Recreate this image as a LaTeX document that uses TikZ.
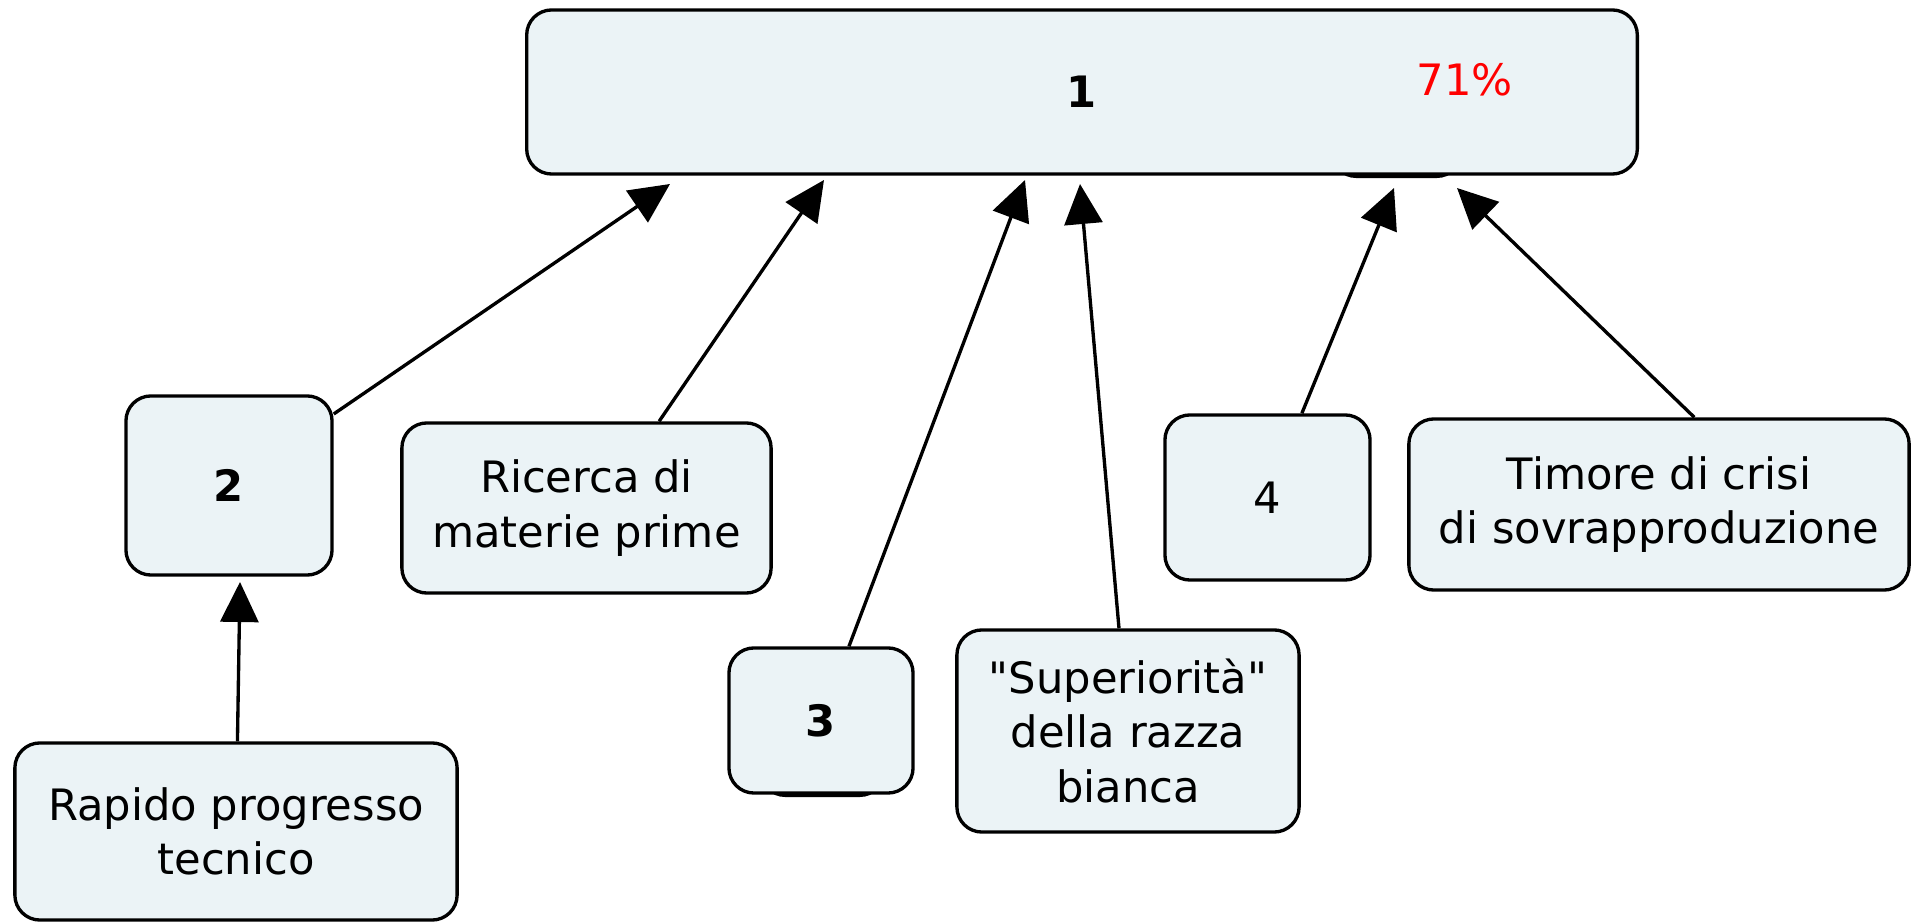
\documentclass[tikz,border=0pt]{standalone}
\usepackage{fontspec}
\setmainfont[Ligatures=TeXOff]{DejaVu Sans}
\usetikzlibrary{calc,arrows.meta}
\definecolor{boxfill}{RGB}{235,243,246}
\begin{document}
\begin{tikzpicture}[x=0.01cm,y=-0.01cm,
    box/.style={draw,line width=0.95pt,fill=boxfill,rounded corners=0.25cm,inner sep=0pt,align=center,font=\fontsize{12.3}{15.5}\selectfont},
    tabbox/.style={fill=black,rounded corners=0.25cm,inner sep=0pt},
    arr/.style={line width=0.95pt,-{Triangle[length=0.4cm,width=0.38cm]}}]
    \useasboundingbox(0,0)rectangle(1911,922);
    \node[tabbox,minimum width=1.31cm,minimum height=0.6cm](TM)at(1396.5,148){};
    \node[tabbox,minimum width=1.25cm,minimum height=0.6cm](T3)at(822.5,767){};
    \node[box,minimum width=11.1cm,minimum height=1.64cm](M)at(1082,92){\raisebox{-0.05cm}{\bfseries 1}};
    \node[text=red,inner sep=0pt,font=\fontsize{12.3}{15.5}\selectfont](P)at(1465,80){71\%};
    \node[box,minimum width=2.06cm,minimum height=1.79cm](K2)at(229,485.5){\bfseries 2};
    \node[box,minimum width=4.42cm,minimum height=1.77cm](Rap)at(236,831.5){Rapido progresso\\tecnico};
    \node[box,minimum width=3.69cm,minimum height=1.70cm](Ric)at(586.5,508){Ricerca di\\materie prime};
    \node[box,minimum width=1.84cm,minimum height=1.45cm](K3)at(821,720.5){\bfseries 3};
    \node[box,minimum width=3.42cm,minimum height=2.02cm](Sup)at(1128,731){"Superiorità"\\della razza\\bianca};
    \node[box,minimum width=2.05cm,minimum height=1.65cm](K4)at(1267.5,497.5){4};
    \node[box,minimum width=5.00cm,minimum height=1.71cm](Tim)at(1659,504.5){Timore di crisi\\di sovrapproduzione};
    \coordinate(A2)at(670,184);
    \coordinate(AR)at(824,180);
    \coordinate(A3)at(1025,180);
    \coordinate(AS)at(1080,184);
    \coordinate(A4)at(1394,188);
    \coordinate(AT)at(1457,188);
    \coordinate(AK)at(240,582);
    \draw[arr](Rap)--(AK);
    \draw[arr](K2)--(A2);
    \draw[arr]($(Ric.north)!0.39!(Ric.north east)$)--(AR);
    \draw[arr](K3)--(A3);
    \draw[arr](Sup)--(AS);
    \draw[arr](K4)--(A4);
    \draw[arr]($(Tim.north)!0.14!(Tim.north east)$)--(AT);
  \end{tikzpicture}
\end{document}
